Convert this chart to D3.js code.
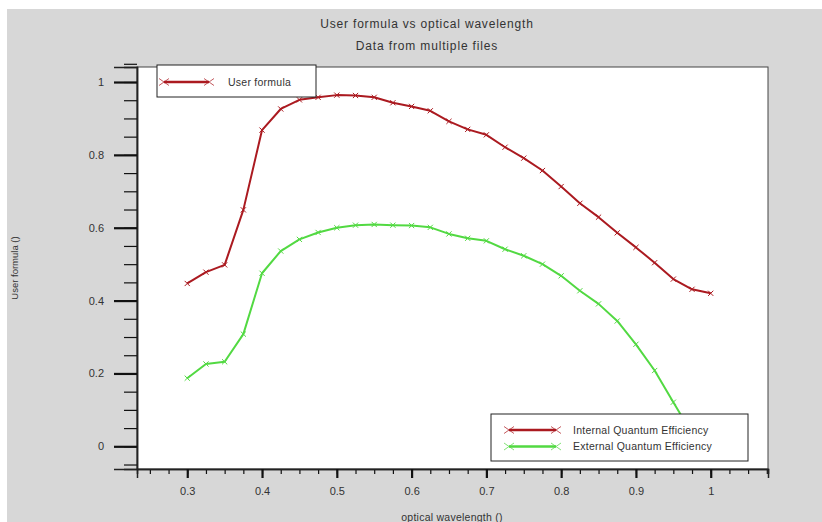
<!DOCTYPE html>
<html>
<head>
<meta charset="utf-8">
<script src="https://cdn.jsdelivr.net/npm/d3@7"></script>
<style>
  body { margin: 0; background: #fff; }
  text { font-family: "Liberation Sans", Arial, sans-serif; fill: #333; }
</style>
</head>
<body>
<script>
'use strict';

// data
var wavelength = [0.3, 0.325, 0.35, 0.375, 0.4, 0.425, 0.45, 0.475, 0.5, 0.525,
                  0.55, 0.575, 0.6, 0.625, 0.65, 0.675, 0.7, 0.725, 0.75, 0.775,
                  0.8, 0.825, 0.85, 0.875, 0.9, 0.925, 0.95, 0.975, 1.0];
var internalQE = [0.447, 0.478, 0.498, 0.649, 0.868, 0.926, 0.951, 0.958, 0.964, 0.963,
                  0.958, 0.943, 0.933, 0.921, 0.892, 0.870, 0.855, 0.821, 0.791, 0.757,
                  0.713, 0.667, 0.629, 0.586, 0.546, 0.504, 0.459, 0.431, 0.420];
var externalQE = [0.187, 0.226, 0.232, 0.308, 0.475, 0.536, 0.568, 0.587, 0.600, 0.607,
                  0.609, 0.607, 0.606, 0.601, 0.583, 0.571, 0.564, 0.541, 0.523, 0.500,
                  0.468, 0.427, 0.391, 0.344, 0.280, 0.208, 0.121, 0.035, -0.02];
var seriesNames = ['Internal Quantum Efficiency', 'External Quantum Efficiency'];
var xMajor = [0.3, 0.4, 0.5, 0.6, 0.7, 0.8, 0.9, 1];
var yMajor = [0, 0.2, 0.4, 0.6, 0.8, 1];

var width = 822, height = 522;
var plot = {left: 137, top: 67, right: 768, bottom: 469};
var red = '#ab1a20', green = '#52d942';

var svg = d3.select('body').append('svg')
    .attr('width', width)
    .attr('height', height);

svg.append('rect')
    .attr('x', 7).attr('y', 9)
    .attr('width', width - 7).attr('height', height - 9)
    .attr('fill', '#d7d7d7');

var x = d3.scaleLinear().domain([0.2328, 1.0766]).range([plot.left, plot.right]);
var y = d3.scaleLinear().domain([-0.0623, 1.0412]).range([plot.bottom, plot.top]);

svg.append('rect')
    .attr('x', plot.left).attr('y', plot.top)
    .attr('width', plot.right - plot.left).attr('height', plot.bottom - plot.top)
    .attr('fill', '#fff')
    .attr('stroke', '#444')
    .attr('stroke-width', 1);

// minor ticks
var xMinor = d3.range(10, 44).map(function(i) { return i * 0.025; })
    .filter(function(v) { return v <= 1.0766; });
var yMinor = d3.range(-1, 22).map(function(i) { return i * 0.05; });

var xMinorAxis = svg.append('g')
    .attr('transform', 'translate(0,' + plot.bottom + ')')
    .call(d3.axisBottom(x).tickValues(xMinor).tickSize(5).tickFormat(''));
var yMinorAxis = svg.append('g')
    .attr('transform', 'translate(' + plot.left + ',0)')
    .call(d3.axisLeft(y).tickValues(yMinor).tickSize(13).tickFormat(''));

var xAxis = svg.append('g')
    .attr('transform', 'translate(0,' + plot.bottom + ')')
    .call(d3.axisBottom(x).tickValues(xMajor).tickSize(9).tickPadding(9)
      .tickFormat(d3.format('')));
var yAxis = svg.append('g')
    .attr('transform', 'translate(' + plot.left + ',0)')
    .call(d3.axisLeft(y).tickValues(yMajor).tickSize(23).tickPadding(10)
      .tickFormat(d3.format('')));

[xMinorAxis, yMinorAxis, xAxis, yAxis].forEach(function(a) {
  a.select('.domain').attr('stroke', '#222').attr('stroke-width', 1.5);
  a.selectAll('.tick line').attr('stroke', '#111').attr('stroke-width', 1.2);
});
xAxis.selectAll('.tick line').attr('stroke-width', 2.2);
yAxis.selectAll('.tick line').attr('stroke-width', 2.2);
xAxis.selectAll('.tick text').attr('font-size', 11).attr('fill', '#333')
    .attr('font-family', '"Liberation Sans", Arial, sans-serif');
yAxis.selectAll('.tick text').attr('font-size', 11).attr('fill', '#333')
    .attr('font-family', '"Liberation Sans", Arial, sans-serif');

// curves
var line = d3.line()
    .x(function(d) { return x(d[0]); })
    .y(function(d) { return y(d[1]); });

function cross(sel, s) {
  return sel.attr('d', function(d) {
    var cx = x(d[0]), cy = y(d[1]);
    return 'M' + (cx - s) + ',' + (cy - s) + 'L' + (cx + s) + ',' + (cy + s) +
           'M' + (cx - s) + ',' + (cy + s) + 'L' + (cx + s) + ',' + (cy - s);
  });
}

var series = [
  {name: seriesNames[0], color: red, values: d3.zip(wavelength, internalQE)},
  {name: seriesNames[1], color: green, values: d3.zip(wavelength, externalQE)}
];

var curves = svg.append('g');
series.forEach(function(s) {
  var g = curves.append('g');
  g.append('path')
      .datum(s.values)
      .attr('d', line)
      .attr('fill', 'none')
      .attr('stroke', s.color)
      .attr('stroke-width', 2)
      .attr('stroke-linejoin', 'round');
  g.selectAll('path.mark')
      .data(s.values)
    .enter().append('path')
      .attr('class', 'mark')
      .call(cross, 2.6)
      .attr('stroke', s.color)
      .attr('stroke-width', 1);
});

// legends
function legendSample(g, x0, x1, yy, color) {
  g.append('line')
      .attr('x1', x0).attr('x2', x1).attr('y1', yy).attr('y2', yy)
      .attr('stroke', color).attr('stroke-width', 2.5);
  [x0, x1].forEach(function(cx) {
    g.append('path')
        .attr('d', 'M' + (cx - 5) + ',' + (yy - 3.5) + 'L' + (cx + 5) + ',' + (yy + 3.5) +
                   'M' + (cx - 5) + ',' + (yy + 3.5) + 'L' + (cx + 5) + ',' + (yy - 3.5))
        .attr('stroke', color).attr('stroke-width', 0.9).attr('opacity', 0.8);
  });
}

var leg1 = svg.append('g');
leg1.append('rect')
    .attr('x', 157).attr('y', 65).attr('width', 159).attr('height', 32)
    .attr('fill', '#fff').attr('stroke', '#222').attr('stroke-width', 1);
legendSample(leg1, 164, 209, 82, red);
leg1.append('text')
    .attr('x', 228).attr('y', 82).attr('dy', '0.35em')
    .attr('font-size', 10.5)
    .attr('letter-spacing', 0.25)
    .text('User formula');

var leg2 = svg.append('g');
leg2.append('rect')
    .attr('x', 491).attr('y', 414).attr('width', 257).attr('height', 47)
    .attr('fill', '#fff').attr('stroke', '#222').attr('stroke-width', 1);
series.forEach(function(s, i) {
  var yy = 430 + i * 16.5;
  legendSample(leg2, 509, 556, yy, s.color);
  leg2.append('text')
      .attr('x', 573).attr('y', yy).attr('dy', '0.35em')
      .attr('font-size', 10.5)
      .attr('letter-spacing', 0.25)
      .text(s.name);
});

// titles
svg.append('text')
    .attr('x', 427).attr('y', 24).attr('dy', '0.35em')
    .attr('text-anchor', 'middle')
    .attr('font-size', 12)
    .attr('letter-spacing', 0.8)
    .text('User formula vs optical wavelength');
svg.append('text')
    .attr('x', 427).attr('y', 46).attr('dy', '0.35em')
    .attr('text-anchor', 'middle')
    .attr('font-size', 12)
    .attr('letter-spacing', 0.85)
    .text('Data from multiple files');
svg.append('text')
    .attr('x', 452).attr('y', 521)
    .attr('text-anchor', 'middle')
    .attr('font-size', 10.5)
    .attr('letter-spacing', 0.25)
    .text('optical wavelength ()');
svg.append('text')
    .attr('transform', 'translate(15,268) rotate(-90)')
    .attr('dy', '0.35em')
    .attr('text-anchor', 'middle')
    .attr('font-size', 9.5)
    .attr('font-family', '"Liberation Sans Narrow", "DejaVu Sans Condensed", sans-serif')
    .text('User formula ()');
</script>
</body>
</html>
